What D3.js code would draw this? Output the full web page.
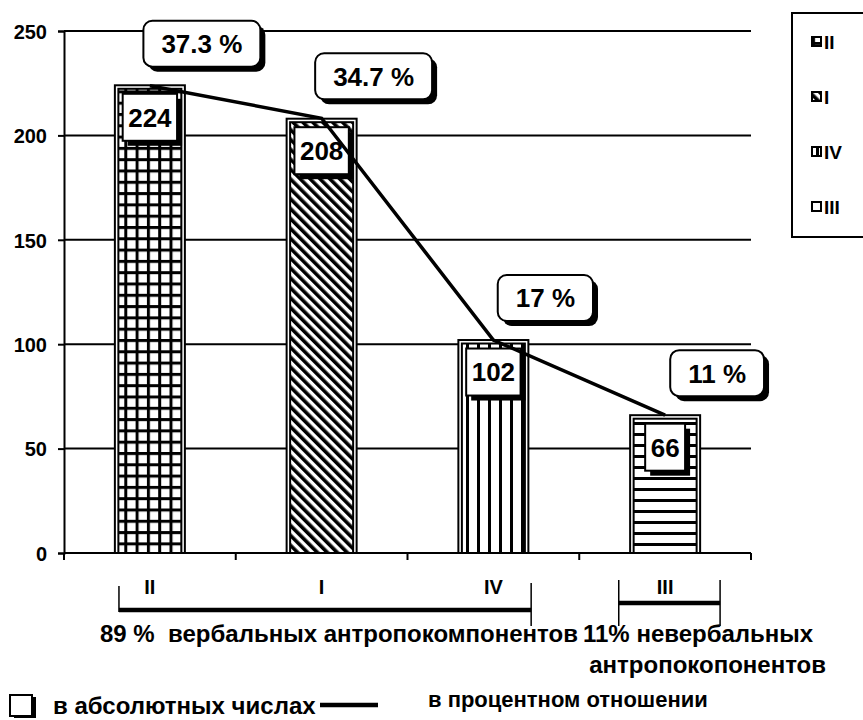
<!DOCTYPE html>
<html>
<head>
<meta charset="utf-8">
<script src="https://cdn.jsdelivr.net/npm/d3@7"></script>
<style>
  body { margin: 0; background: #fff; }
  text { font-family: Arial, "Liberation Sans", sans-serif; font-weight: bold; fill: #000; }
</style>
</head>
<body>
<svg width="863" height="720"></svg>
<script>
"use strict";

// Data.

var categories = ["II", "I", "IV", "III"];
var counts = [224, 208, 102, 66];
var percents = [37.3, 34.7, 17, 11];
var percentLabels = ["37.3 %", "34.7 %", "17 %", "11 %"];
var yTicks = [0, 50, 100, 150, 200, 250];
var patterns = ["grid", "diag", "vert", "horiz"];

var groupNames = ["89 %  вербальных антропокомпонентов", "11% невербальных\nантропокопонентов"];
var groupCats = [["II", "I", "IV"], ["III"]];

var legendAbs = "в абсолютных числах";
var legendPct = "в процентном отношении";

// SVG and layout.

var svg = d3.select("svg");
var Left = 64, Right = 751, Top = 31, Bottom = 553;

var x = d3.scaleBand().domain(categories).range([Left, Right]).paddingInner(0).paddingOuter(0);
var y = d3.scaleLinear().domain([0, 250]).range([Bottom, Top]);
// Percent axis: 600 items in total, so percent*6 lines up with counts.
var y2 = d3.scaleLinear().domain([0, 250 * 100 / 600]).range([Bottom, Top]);

var bw = x.bandwidth();
var BarW = 70;

// Patterns.

var defs = svg.append("defs");

var p = defs.append("pattern").attr("id", "grid").attr("patternUnits", "userSpaceOnUse")
    .attr("width", 11.3).attr("height", 11.3);
p.append("rect").attr("width", 11.3).attr("height", 11.3).attr("fill", "#fff");
p.append("rect").attr("x", 0).attr("width", 3).attr("height", 11.3).attr("fill", "#000");
p.append("rect").attr("y", 0).attr("width", 11.3).attr("height", 3).attr("fill", "#000");

p = defs.append("pattern").attr("id", "diag").attr("patternUnits", "userSpaceOnUse")
    .attr("width", 7).attr("height", 7).attr("patternTransform", "rotate(-45)");
p.append("rect").attr("width", 7).attr("height", 7).attr("fill", "#fff");
p.append("rect").attr("width", 3.6).attr("height", 7).attr("fill", "#000");

p = defs.append("pattern").attr("id", "vert").attr("patternUnits", "userSpaceOnUse")
    .attr("width", 11).attr("height", 11);
p.append("rect").attr("width", 11).attr("height", 11).attr("fill", "#fff");
p.append("rect").attr("x", 4).attr("width", 3).attr("height", 11).attr("fill", "#000");

p = defs.append("pattern").attr("id", "horiz").attr("patternUnits", "userSpaceOnUse")
    .attr("width", 11).attr("height", 11);
p.append("rect").attr("width", 11).attr("height", 11).attr("fill", "#fff");
p.append("rect").attr("y", 4).attr("width", 11).attr("height", 3).attr("fill", "#000");

// Gridlines.

svg.append("g").selectAll("line")
    .data(yTicks.filter(function(d){ return d > 0; }))
    .enter().append("line")
        .attr("x1", Left).attr("x2", Right)
        .attr("y1", function(d){ return y(d); })
        .attr("y2", function(d){ return y(d); })
        .style("stroke", "#000").style("stroke-width", 2);

// Y axis.

var yAxis = svg.append("g")
    .attr("transform", "translate(" + Left + ",0)")
    .call(d3.axisLeft(y).tickValues(yTicks).tickSize(6).tickPadding(11));
yAxis.select(".domain").attr("stroke-width", 2);
yAxis.selectAll(".tick line").attr("stroke-width", 2);
yAxis.selectAll(".tick text")
    .style("font-size", "20px").style("font-family", "Arial, 'Liberation Sans', sans-serif")
    .style("font-weight", "bold").attr("dy", "0.36em");

// X axis with ticks at band edges.

svg.append("line")
    .attr("x1", Left).attr("x2", Right).attr("y1", Bottom).attr("y2", Bottom)
    .style("stroke", "#000").style("stroke-width", 2);
var edges = categories.map(function(c){ return x(c); }).concat([Right]);
svg.append("g").selectAll("line").data(edges).enter().append("line")
    .attr("x1", function(d){ return d; }).attr("x2", function(d){ return d; })
    .attr("y1", Bottom).attr("y2", Bottom + 7)
    .style("stroke", "#000").style("stroke-width", 2);

svg.append("g").selectAll("text").data(categories).enter().append("text")
    .attr("x", function(d){ return x(d) + bw / 2; })
    .attr("y", 594)
    .attr("text-anchor", "middle")
    .style("font-size", "20px")
    .text(function(d){ return d; });

// Bars.

var bars = svg.append("g").selectAll("g").data(counts).enter().append("g");
bars.append("rect")
    .attr("x", function(d, i){ return x(categories[i]) + bw / 2 - BarW / 2; })
    .attr("y", function(d){ return y(d); })
    .attr("width", BarW)
    .attr("height", function(d){ return Bottom - y(d); })
    .attr("fill", "#fff").attr("stroke", "#000").attr("stroke-width", 2);
bars.append("rect")
    .attr("x", function(d, i){ return x(categories[i]) + bw / 2 - BarW / 2 + 3.5; })
    .attr("y", function(d){ return y(d) + 3.5; })
    .attr("width", BarW - 7)
    .attr("height", function(d){ return Bottom - y(d) - 3.5; })
    .attr("fill", function(d, i){ return "url(#" + patterns[i] + ")"; })
    .attr("stroke", "#000").attr("stroke-width", 2);

// Value labels (boxes with shadow).

var vl = svg.append("g").selectAll("g").data(counts).enter().append("g")
    .attr("transform", function(d, i){
        return "translate(" + (x(categories[i]) + bw / 2) + "," + (y(d) + 32) + ")";
    });
vl.append("text")
    .attr("text-anchor", "middle").attr("dy", "0.36em")
    .style("font-size", "26px")
    .text(function(d){ return d; });
vl.each(function(){
    var g = d3.select(this);
    var w = g.select("text").node().getComputedTextLength() + 11;
    var h = 47;
    g.insert("rect", "text").attr("x", -w / 2 + 5).attr("y", -h / 2 + 5)
        .attr("width", w).attr("height", h).attr("fill", "#000");
    g.insert("rect", "text").attr("x", -w / 2).attr("y", -h / 2)
        .attr("width", w).attr("height", h)
        .attr("fill", "#fff").attr("stroke", "#000").attr("stroke-width", 2);
});

// Percent line.

var line = d3.line()
    .x(function(d, i){ return x(categories[i]) + bw / 2; })
    .y(function(d){ return y2(d); });
svg.append("path")
    .datum(percents)
    .attr("d", line)
    .attr("fill", "none").attr("stroke", "#000").attr("stroke-width", 3.5);

// Percent labels (rounded boxes with shadow).

var pl = svg.append("g").selectAll("g").data(percents).enter().append("g")
    .attr("transform", function(d, i){
        return "translate(" + (x(categories[i]) + bw / 2 + 52) + "," + (y2(d) - 42) + ")";
    });
pl.append("text")
    .attr("text-anchor", "middle").attr("dy", "0.36em")
    .style("font-size", "26px")
    .text(function(d, i){ return percentLabels[i]; });
pl.each(function(){
    var g = d3.select(this);
    var w = g.select("text").node().getComputedTextLength() + 36;
    var h = 46;
    g.insert("rect", "text").attr("x", -w / 2 + 5).attr("y", -h / 2 + 5)
        .attr("width", w).attr("height", h).attr("rx", 9).attr("fill", "#000");
    g.insert("rect", "text").attr("x", -w / 2).attr("y", -h / 2)
        .attr("width", w).attr("height", h).attr("rx", 9)
        .attr("fill", "#fff").attr("stroke", "#000").attr("stroke-width", 2);
});

// Group brackets under the axis.

var brackets = [
    {from: 0.32, to: 0.72, yl: [586, 612], yr: [583, 626], yh: 610},
    {from: 0.23, to: 0.82, yl: [580, 626], yr: [580, 626], yh: 603}
];
groupCats.forEach(function(cats, i){
    var b = brackets[i];
    var x1 = x(cats[0]) + bw * b.from;
    var x2 = x(cats[cats.length - 1]) + bw * b.to;
    var g = svg.append("g");
    g.append("line").attr("x1", x1).attr("x2", x1).attr("y1", b.yl[0]).attr("y2", b.yl[1])
        .style("stroke", "#000").style("stroke-width", 1.5);
    g.append("line").attr("x1", x2).attr("x2", x2).attr("y1", b.yr[0]).attr("y2", b.yr[1])
        .style("stroke", "#000").style("stroke-width", 1.5);
    g.append("line").attr("x1", x1).attr("x2", x2).attr("y1", b.yh).attr("y2", b.yh)
        .style("stroke", "#000").style("stroke-width", 4.5);
});

svg.append("text").attr("x", 100).attr("y", 642).style("font-size", "24px")
    .attr("xml:space", "preserve")
    .text(groupNames[0]);
var g2 = groupNames[1].split("\n");
svg.append("text").attr("x", 583).attr("y", 642).style("font-size", "24px").text(g2[0]);
svg.append("text").attr("x", 826).attr("y", 673).attr("text-anchor", "end")
    .style("font-size", "24px").text(g2[1]);

// Series legend (right).

svg.append("rect").attr("x", 792).attr("y", 13).attr("width", 80).attr("height", 224)
    .attr("fill", "#fff").attr("stroke", "#000").attr("stroke-width", 2);
var lg = svg.append("g").selectAll("g").data(categories).enter().append("g")
    .attr("transform", function(d, i){ return "translate(812," + (42 + i * 55) + ")"; });
lg.append("rect").attr("x", 0).attr("y", -5).attr("width", 9).attr("height", 9)
    .attr("fill", function(d, i){ return "url(#" + patterns[i] + ")"; })
    .attr("stroke", "#000").attr("stroke-width", 2);
lg.append("text").attr("x", 12).attr("y", 0).attr("dy", "0.36em")
    .style("font-size", "19px")
    .text(function(d){ return d; });

// Bottom legend.

svg.append("rect").attr("x", 14).attr("y", 697).attr("width", 22).attr("height", 21).attr("fill", "#000");
svg.append("rect").attr("x", 10).attr("y", 695).attr("width", 22).attr("height", 21)
    .attr("fill", "#fff").attr("stroke", "#000").attr("stroke-width", 2);
svg.append("text").attr("x", 53).attr("y", 714).style("font-size", "24px").text(legendAbs);
svg.append("line").attr("x1", 320).attr("x2", 378).attr("y1", 705).attr("y2", 705)
    .style("stroke", "#000").style("stroke-width", 4.5);
svg.append("text").attr("x", 428).attr("y", 707).style("font-size", "22px").text(legendPct);
</script>
</body>
</html>
